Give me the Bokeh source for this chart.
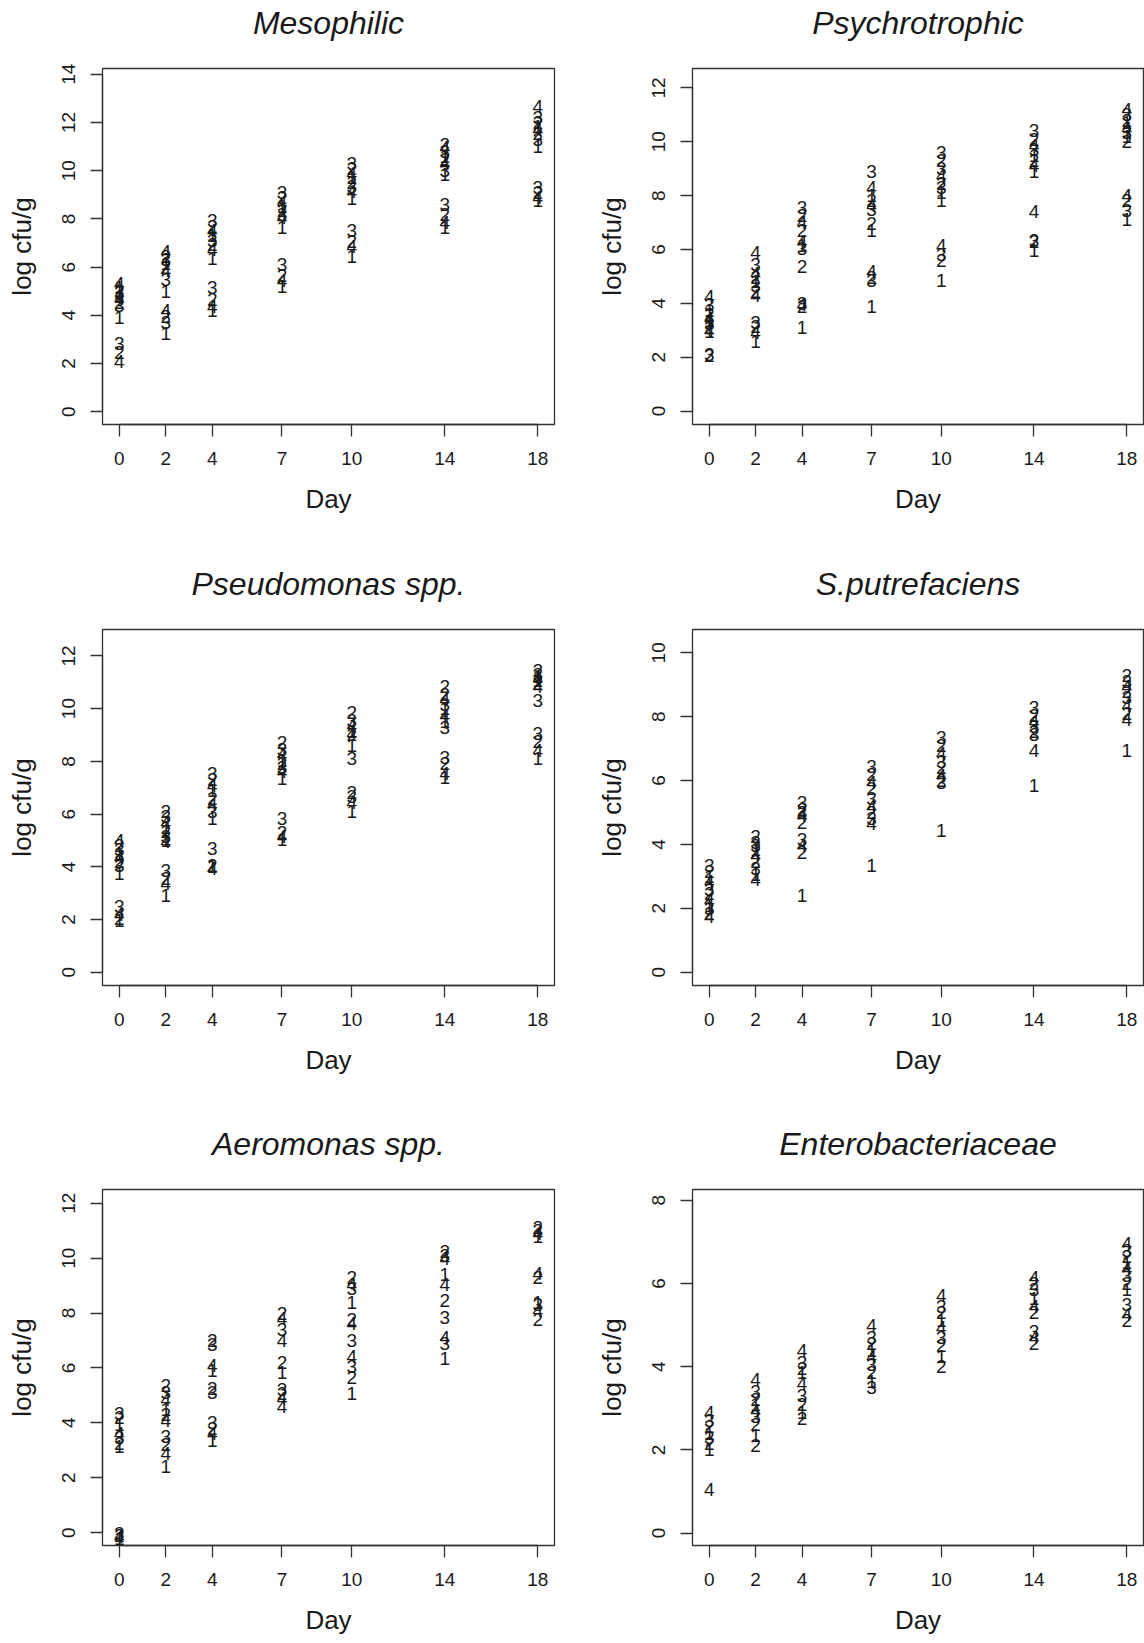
from bokeh.plotting import figure
from bokeh.models import ColumnDataSource, FixedTicker, Range1d, Title
from bokeh.layouts import column, row
from bokeh.core.properties import value
from bokeh.embed import file_html
from bokeh.resources import INLINE

DAY_TICKS = [0, 2, 4, 7, 10, 14, 18]

# ---------------- Mesophilic ----------------
meso_days = [0, 0, 0, 0, 0, 0, 0, 0, 0, 0, 0, 0,
             2, 2, 2, 2, 2, 2, 2, 2, 2, 2, 2, 2,
             4, 4, 4, 4, 4, 4, 4, 4, 4, 4, 4, 4,
             7, 7, 7, 7, 7, 7, 7, 7, 7, 7, 7, 7,
             10, 10, 10, 10, 10, 10, 10, 10, 10, 10, 10, 10,
             14, 14, 14, 14, 14, 14, 14, 14, 14, 14, 14, 14,
             18, 18, 18, 18, 18, 18, 18, 18, 18, 18, 18, 18]
meso_groups = ["4", "1", "2", "3", "1", "4", "2", "3", "1", "3", "2", "4",
               "4", "2", "3", "1", "2", "4", "3", "1", "4", "2", "3", "1",
               "3", "2", "4", "1", "3", "2", "4", "1", "3", "2", "4", "1",
               "3", "2", "4", "1", "2", "3", "4", "1", "3", "2", "4", "1",
               "3", "2", "4", "1", "2", "3", "4", "1", "3", "2", "4", "1",
               "2", "4", "3", "1", "2", "4", "3", "1", "3", "2", "4", "1",
               "4", "3", "2", "1", "4", "2", "3", "1", "3", "2", "4", "1"]
meso_values = [5.3, 5.15, 5.05, 4.95, 4.8, 4.7, 4.55, 4.4, 3.9, 2.85, 2.45, 2.1,
               6.65, 6.45, 6.3, 6.15, 6.0, 5.85, 5.5, 5.0, 4.2, 3.95, 3.7, 3.25,
               7.95, 7.7, 7.5, 7.3, 7.1, 6.95, 6.75, 6.35, 5.15, 4.65, 4.35, 4.2,
               9.1, 8.9, 8.7, 8.5, 8.35, 8.2, 8.05, 7.65, 6.1, 5.65, 5.45, 5.2,
               10.3, 10.1, 9.9, 9.7, 9.5, 9.35, 9.15, 8.85, 7.5, 7.05, 6.85, 6.45,
               11.1, 10.95, 10.8, 10.6, 10.45, 10.3, 10.0, 9.85, 8.6, 8.2, 7.85, 7.65,
               12.65, 12.2, 12.0, 11.85, 11.7, 11.55, 11.3, 11.0, 9.3, 9.1, 8.9, 8.75]

# ---------------- Psychrotrophic ----------------
psy_days = [0, 0, 0, 0, 0, 0, 0, 0, 0, 0, 0, 0,
            2, 2, 2, 2, 2, 2, 2, 2, 2, 2, 2, 2,
            4, 4, 4, 4, 4, 4, 4, 4, 4, 4, 4, 4,
            7, 7, 7, 7, 7, 7, 7, 7, 7, 7, 7, 7,
            10, 10, 10, 10, 10, 10, 10, 10, 10, 10, 10, 10,
            14, 14, 14, 14, 14, 14, 14, 14, 14, 14, 14, 14,
            18, 18, 18, 18, 18, 18, 18, 18, 18, 18, 18, 18]
psy_groups = ["4", "3", "1", "2", "4", "1", "3", "2", "4", "1", "3", "2",
              "4", "3", "4", "2", "1", "3", "2", "4", "3", "2", "4", "1",
              "3", "2", "4", "2", "4", "1", "3", "2", "3", "4", "2", "1",
              "3", "4", "1", "2", "4", "3", "2", "1", "4", "2", "3", "1",
              "3", "2", "3", "4", "2", "3", "1", "1", "4", "3", "2", "1",
              "3", "2", "4", "3", "1", "2", "4", "1", "4", "3", "2", "1",
              "4", "3", "2", "1", "4", "3", "1", "2", "4", "2", "3", "1"]
psy_values = [4.25, 3.95, 3.75, 3.6, 3.45, 3.35, 3.25, 3.1, 3.0, 2.95, 2.1, 2.05,
              5.9, 5.45, 5.1, 4.95, 4.8, 4.65, 4.45, 4.3, 3.3, 3.15, 2.9, 2.6,
              7.55, 7.25, 7.0, 6.7, 6.3, 6.15, 6.05, 5.35, 4.0, 3.95, 3.9, 3.1,
              8.9, 8.3, 8.0, 7.8, 7.65, 7.5, 6.95, 6.7, 5.2, 4.95, 4.85, 3.9,
              9.6, 9.3, 9.0, 8.75, 8.45, 8.3, 8.1, 7.8, 6.15, 5.8, 5.6, 4.85,
              10.4, 10.1, 9.85, 9.7, 9.5, 9.3, 9.1, 8.9, 7.4, 6.35, 6.3, 5.95,
              11.2, 11.0, 10.8, 10.7, 10.5, 10.35, 10.2, 10.0, 8.0, 7.8, 7.45, 7.1]

# ---------------- Pseudomonas spp. ----------------
pse_days = [0, 0, 0, 0, 0, 0, 0, 0, 0, 0, 0, 0,
            2, 2, 2, 2, 2, 2, 2, 2, 2, 2, 2, 2,
            4, 4, 4, 4, 4, 4, 4, 4, 4, 4, 4, 4,
            7, 7, 7, 7, 7, 7, 7, 7, 7, 7, 7, 7,
            10, 10, 10, 10, 10, 10, 10, 10, 10, 10, 10, 10,
            14, 14, 14, 14, 14, 14, 14, 14, 14, 14, 14, 14,
            18, 18, 18, 18, 18, 18, 18, 18, 18, 18, 18, 18]
pse_groups = ["4", "2", "3", "1", "4", "2", "3", "1", "3", "4", "2", "1",
              "2", "3", "4", "1", "2", "3", "4", "1", "3", "2", "4", "1",
              "3", "2", "4", "1", "2", "4", "3", "1", "3", "2", "4", "1",
              "2", "3", "4", "1", "2", "3", "4", "1", "3", "2", "4", "1",
              "2", "3", "4", "1", "4", "2", "1", "3", "2", "3", "4", "1",
              "2", "2", "4", "3", "1", "1", "4", "3", "3", "2", "4", "1",
              "2", "3", "1", "4", "1", "2", "4", "3", "3", "2", "4", "1"]
pse_values = [5.0, 4.8, 4.65, 4.5, 4.35, 4.2, 4.05, 3.75, 2.5, 2.2, 2.05, 1.95,
              6.1, 5.9, 5.7, 5.5, 5.35, 5.15, 4.95, 5.0, 3.85, 3.55, 3.35, 2.9,
              7.55, 7.3, 7.1, 6.9, 6.6, 6.35, 6.1, 5.85, 4.7, 4.05, 3.95, 4.0,
              8.7, 8.45, 8.25, 8.05, 7.9, 7.75, 7.6, 7.35, 5.85, 5.3, 5.15, 5.05,
              9.85, 9.55, 9.35, 9.15, 9.05, 9.0, 8.6, 8.1, 6.8, 6.65, 6.45, 6.1,
              10.85, 10.55, 10.35, 10.15, 10.0, 9.5, 9.75, 9.3, 8.15, 7.9, 7.55, 7.4,
              11.45, 11.3, 11.2, 11.15, 11.05, 10.95, 10.85, 10.3, 9.05, 8.75, 8.4, 8.1]

# ---------------- S.putrefaciens ----------------
spu_days = [0, 0, 0, 0, 0, 0, 0, 0, 0, 0, 0,
            2, 2, 2, 2, 2, 2, 2, 2, 2,
            4, 4, 4, 4, 4, 4, 4, 4, 4,
            7, 7, 7, 7, 7, 7, 7, 7, 7, 7,
            10, 10, 10, 10, 10, 10, 10, 10, 10,
            14, 14, 14, 14, 14, 14, 14, 14,
            18, 18, 18, 18, 18, 18, 18, 18, 18]
spu_groups = ["3", "2", "1", "4", "3", "2", "4", "1", "3", "2", "4",
              "2", "3", "3", "1", "4", "2", "3", "1", "4",
              "3", "3", "2", "4", "2", "3", "4", "2", "1",
              "3", "2", "4", "2", "3", "4", "2", "3", "4", "1",
              "3", "2", "4", "3", "2", "4", "2", "3", "1",
              "3", "2", "4", "3", "2", "3", "4", "1",
              "2", "3", "4", "2", "3", "4", "2", "4", "1"]
spu_values = [3.35, 3.15, 3.0, 2.85, 2.6, 2.45, 2.25, 2.1, 2.0, 1.85, 1.75,
              4.25, 4.05, 3.95, 3.85, 3.65, 3.45, 3.25, 3.05, 2.9,
              5.3, 5.0, 5.1, 4.9, 4.7, 4.15, 3.95, 3.75, 2.4,
              6.45, 6.2, 5.95, 5.75, 5.45, 5.2, 5.0, 4.8, 4.65, 3.35,
              7.35, 7.1, 6.85, 6.6, 6.4, 6.15, 6.0, 5.95, 4.45,
              8.3, 8.05, 7.85, 7.7, 7.55, 7.45, 6.95, 5.85,
              9.3, 9.1, 8.95, 8.8, 8.6, 8.35, 8.1, 7.9, 6.95]

# ---------------- Aeromonas spp. ----------------
aer_days = [0, 0, 0, 0, 0, 0, 0, 0, 0, 0, 0,
            2, 2, 2, 2, 2, 2, 2, 2, 2, 2,
            4, 4, 4, 4, 4, 4, 4, 4, 4, 4,
            7, 7, 7, 7, 7, 7, 7, 7, 7, 7,
            10, 10, 10, 10, 10, 10, 10, 10, 10, 10, 10,
            14, 14, 14, 14, 14, 14, 14, 14, 14, 14,
            18, 18, 18, 18, 18, 18, 18, 18, 18, 18]
aer_groups = ["3", "2", "1", "4", "3", "2", "1", "3", "2", "4", "1",
              "2", "3", "4", "1", "2", "4", "3", "2", "4", "1",
              "2", "3", "4", "1", "2", "3", "3", "2", "4", "1",
              "2", "4", "3", "4", "2", "1", "3", "2", "4", "4",
              "2", "4", "3", "1", "2", "4", "3", "4", "3", "2", "1",
              "2", "3", "4", "1", "4", "2", "3", "4", "3", "1",
              "2", "3", "4", "1", "4", "2", "1", "3", "4", "2"]
aer_values = [4.35, 4.2, 3.95, 3.6, 3.45, 3.25, 3.15, -0.05, -0.1, -0.15, -0.2,
              5.35, 5.1, 4.85, 4.5, 4.3, 4.1, 3.5, 3.2, 2.9, 2.4,
              7.0, 6.85, 6.1, 5.9, 5.25, 5.1, 4.0, 3.8, 3.6, 3.35,
              8.0, 7.8, 7.4, 7.0, 6.2, 5.85, 5.2, 5.05, 4.9, 4.6,
              9.3, 9.05, 8.9, 8.4, 7.75, 7.6, 7.0, 6.4, 6.05, 5.65, 5.05,
              10.25, 10.1, 10.0, 9.4, 9.05, 8.45, 7.85, 7.1, 6.9, 6.35,
              11.1, 11.0, 10.9, 10.8, 9.45, 9.3, 8.4, 8.3, 8.1, 7.75]

# ---------------- Enterobacteriaceae ----------------
ent_days = [0, 0, 0, 0, 0, 0, 0, 0,
            2, 2, 2, 2, 2, 2, 2, 2, 2,
            4, 4, 4, 4, 4, 4, 4, 4, 4,
            7, 7, 7, 7, 7, 7, 7, 7, 7,
            10, 10, 10, 10, 10, 10, 10, 10, 10,
            14, 14, 14, 14, 14, 14, 14, 14, 14,
            18, 18, 18, 18, 18, 18, 18, 18, 18, 18, 18]
ent_groups = ["4", "3", "2", "1", "3", "2", "1", "4",
              "4", "3", "2", "1", "4", "3", "2", "1", "2",
              "4", "3", "2", "1", "4", "3", "2", "1", "2",
              "4", "3", "2", "1", "4", "3", "2", "1", "3",
              "4", "3", "2", "1", "4", "3", "2", "1", "2",
              "4", "2", "3", "1", "4", "2", "3", "4", "2",
              "4", "3", "2", "1", "4", "3", "2", "1", "3", "4", "2"]
ent_values = [2.9, 2.7, 2.55, 2.4, 2.3, 2.15, 2.0, 1.05,
              3.7, 3.4, 3.2, 3.1, 2.95, 2.8, 2.6, 2.35, 2.1,
              4.4, 4.1, 3.95, 3.85, 3.6, 3.3, 3.1, 2.9, 2.75,
              5.0, 4.7, 4.55, 4.4, 4.25, 4.05, 3.85, 3.65, 3.5,
              5.7, 5.45, 5.3, 5.1, 4.95, 4.7, 4.5, 4.25, 4.0,
              6.15, 6.0, 5.85, 5.65, 5.45, 5.3, 4.85, 4.7, 4.55,
              6.95, 6.8, 6.65, 6.5, 6.35, 6.2, 6.0, 5.85, 5.5, 5.25, 5.1]

FONT = "Liberation Sans"
INK = "#1a1a1a"
LINE = "#333333"
X_LO, X_HI = -0.72, 18.72


def panel(title, days, groups, vals, ylo, yhi, yticks, col, rowi):
    top = 68
    bottom = 90 if rowi == 2 else 137 if rowi == 0 else 136
    left = 102 if col == 0 else 100
    fw = 452 if col == 0 else 451
    right = 38 if col == 0 else 1
    p = figure(x_range=Range1d(X_LO, X_HI), y_range=Range1d(ylo, yhi),
               frame_width=fw, frame_height=356,
               min_border_left=left, min_border_right=right,
               min_border_top=top, min_border_bottom=bottom,
               toolbar_location=None, output_backend="svg",
               background_fill_color="white", border_fill_color="white")

    # real italic title, with an invisible spacer title between it and the frame
    p.title.text = title
    p.title.align = "center"
    p.title.text_font = FONT
    p.title.text_font_style = "italic"
    p.title.text_font_size = "32px"
    p.title.text_color = INK
    p.title.standoff = 0
    p.add_layout(Title(text="\u00a0", text_font_size="23px", standoff=0), "above")

    p.outline_line_color = LINE
    p.outline_line_width = 1.3
    p.xgrid.visible = False
    p.ygrid.visible = False

    for ax in (p.xaxis[0], p.yaxis[0]):
        ax.axis_line_color = LINE
        ax.axis_line_width = 1.3
        ax.major_tick_line_color = LINE
        ax.major_tick_line_width = 1.3
        ax.major_tick_in = 0
        ax.major_tick_out = 12
        ax.minor_tick_line_color = None
        ax.major_label_text_font = FONT
        ax.major_label_text_font_size = "19px"
        ax.major_label_text_color = INK
        ax.axis_label_text_font = FONT
        ax.axis_label_text_font_size = "26px"
        ax.axis_label_text_font_style = "normal"
        ax.axis_label_text_color = INK

    p.xaxis.ticker = FixedTicker(ticks=DAY_TICKS)
    p.xaxis.bounds = (DAY_TICKS[0], DAY_TICKS[-1])
    p.xaxis.axis_label = "Day"
    p.xaxis.major_label_standoff = 15
    p.xaxis.axis_label_standoff = 16

    p.yaxis.ticker = FixedTicker(ticks=yticks)
    p.yaxis.bounds = (yticks[0], yticks[-1])
    p.yaxis.axis_label = "log cfu/g"
    p.yaxis.major_label_orientation = "vertical"
    p.yaxis.major_label_standoff = 15
    p.yaxis.axis_label_standoff = 23

    src = ColumnDataSource(dict(x=days, y=vals, t=groups))
    p.text(x="x", y="y", text="t", source=src, text_align="center",
           text_baseline="middle", text_font=value(FONT),
           text_font_size="19px", text_color=INK)
    return p


p1 = panel("Mesophilic", meso_days, meso_groups, meso_values, -0.53, 14.24,
           [0, 2, 4, 6, 8, 10, 12, 14], 0, 0)
p2 = panel("Psychrotrophic", psy_days, psy_groups, psy_values, -0.5, 12.72,
           [0, 2, 4, 6, 8, 10, 12], 1, 0)
p3 = panel("Pseudomonas spp.", pse_days, pse_groups, pse_values, -0.5, 13.0,
           [0, 2, 4, 6, 8, 10, 12], 0, 1)
p4 = panel("S.putrefaciens", spu_days, spu_groups, spu_values, -0.42, 10.73,
           [0, 2, 4, 6, 8, 10], 1, 1)
p5 = panel("Aeromonas spp.", aer_days, aer_groups, aer_values, -0.47, 12.5,
           [0, 2, 4, 6, 8, 10, 12], 0, 2)
p6 = panel("Enterobacteriaceae", ent_days, ent_groups, ent_values, -0.3, 8.26,
           [0, 2, 4, 6, 8], 1, 2)

layout = column(row(p1, p2), row(p3, p4), row(p5, p6))
open("out.html", "w").write(file_html(layout, INLINE))
